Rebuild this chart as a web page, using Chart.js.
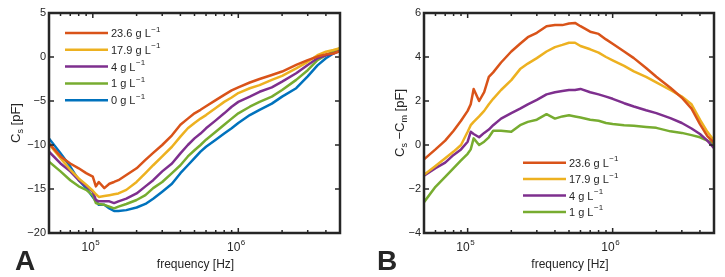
<!DOCTYPE html>
<html>
<head>
<meta charset="utf-8">
<script src="https://cdn.jsdelivr.net/npm/chart.js@4/dist/chart.umd.min.js"></script>
<style>
  body { margin: 0; background: #fff; }
  #wrap { position: relative; width: 725px; height: 277px; }
  canvas { position: absolute; top: 0; }
</style>
</head>
<body>
<div id="wrap">
  <canvas id="chartA" width="362" height="277" style="left:0"></canvas>
  <canvas id="chartB" width="363" height="277" style="left:362px"></canvas>
</div>
<script>
// frequency points (Hz), shared by every series
const freqHz = [5e4, 6e4, 7e4, 8e4, 9e4, 1e5, 1.05e5, 1.1e5, 1.2e5, 1.3e5, 1.4e5, 1.5e5, 1.7e5,
  2e5, 2.3e5, 2.6e5, 3e5, 3.5e5, 4e5, 4.5e5, 5e5, 5.5e5, 6e5, 7e5, 8e5, 9e5,
  1e6, 1.2e6, 1.4e6, 1.7e6, 2e6, 2.5e6, 3e6, 3.5e6, 4e6, 4.5e6, 5e6];

// panel A: Cs [pF]
const csA_236 = [-9.8, -11.3, -12.1, -12.65, -13.2, -13.6, -14.7, -14.2, -14.9, -14.4, -14.2, -14.0, -13.4,
  -12.65, -11.7, -10.9, -10.0, -8.9, -7.7, -7.0, -6.4, -6.0, -5.6, -4.9, -4.3, -3.8,
  -3.45, -2.9, -2.5, -2.05, -1.65, -0.9, -0.35, 0.05, 0.3, 0.4, 0.65];
const csA_179 = [-9.9, -11.5, -12.8, -13.8, -14.5, -15.2, -15.6, -15.9, -15.8, -15.7, -15.6, -15.5, -15.1,
  -14.2, -13.2, -12.3, -11.3, -10.2, -9.05, -8.1, -7.5, -7.0, -6.6, -5.8, -5.1, -4.6,
  -4.1, -3.55, -3.2, -2.6, -2.15, -1.3, -0.55, 0.2, 0.6, 0.8, 1.0];
const csA_4 = [-10.75, -12.1, -13.0, -14.0, -14.7, -15.3, -16.25, -16.4, -16.4, -16.4, -16.6, -16.4, -16.1,
  -15.5, -14.7, -14.0, -13.0, -12.1, -10.95, -10.0, -9.25, -8.7, -8.1, -7.2, -6.4, -5.65,
  -5.1, -4.5, -3.95, -3.45, -2.8, -1.85, -0.9, -0.15, 0.2, 0.4, 0.7];
const csA_1 = [-11.9, -13.0, -14.0, -14.7, -15.1, -15.7, -16.6, -16.7, -16.8, -17.0, -17.2, -17.0, -16.7,
  -16.25, -15.7, -14.9, -14.2, -13.2, -12.3, -11.3, -10.6, -10.0, -9.4, -8.5, -7.7, -7.0,
  -6.4, -5.65, -5.1, -4.5, -3.75, -2.6, -1.5, -0.35, 0.2, 0.6, 1.0];
const csA_0 = [-9.25, -10.95, -12.45, -14.0, -14.9, -15.9, -16.4, -16.8, -16.8, -17.2, -17.5, -17.5, -17.4,
  -17.1, -16.7, -16.1, -15.3, -14.4, -13.2, -12.3, -11.5, -10.75, -10.2, -9.4, -8.7, -8.1,
  -7.5, -6.6, -6.0, -5.3, -4.5, -3.55, -2.2, -0.95, -0.15, 0.4, 0.75];

// panel B: Cs - Cm [pF]
const diffB_236 = [-0.65, -0.2, 0.2, 0.65, 1.1, 1.55, 1.85, 2.55, 2.0, 2.4, 3.1, 3.3, 3.75,
  4.25, 4.6, 4.9, 5.1, 5.4, 5.45, 5.45, 5.52, 5.55, 5.4, 5.15, 5.05, 4.8,
  4.6, 4.25, 3.95, 3.5, 3.1, 2.6, 2.15, 1.65, 0.95, 0.4, 0.1];
const diffB_179 = [-1.35, -0.95, -0.6, -0.3, 0.0, 0.6, 0.9, 1.05, 1.3, 1.55, 1.85, 2.1, 2.5,
  2.95, 3.45, 3.7, 3.95, 4.25, 4.45, 4.55, 4.65, 4.65, 4.5, 4.35, 4.2, 4.0,
  3.85, 3.6, 3.35, 3.1, 2.85, 2.5, 2.2, 1.85, 1.15, 0.6, 0.2];
const diffB_4 = [-1.4, -1.05, -0.8, -0.45, -0.2, 0.15, 0.6, 0.5, 0.35, 0.55, 0.7, 0.9, 1.2,
  1.45, 1.65, 1.85, 2.05, 2.3, 2.4, 2.45, 2.5, 2.5, 2.55, 2.4, 2.3, 2.2,
  2.1, 1.9, 1.75, 1.58, 1.45, 1.22, 1.0, 0.75, 0.5, 0.2, -0.15];
const diffB_1 = [-2.6, -1.9, -1.45, -1.05, -0.7, -0.4, -0.2, 0.3, 0.0, 0.15, 0.35, 0.65, 0.65,
  0.6, 0.9, 1.05, 1.15, 1.4, 1.2, 1.3, 1.35, 1.3, 1.25, 1.15, 1.1, 1.0,
  0.95, 0.9, 0.88, 0.82, 0.78, 0.62, 0.55, 0.45, 0.35, 0.2, 0.05];

const concLabels = ['23.6', '17.9', '4', '1', '0'];
const lineColors = ['#D95319', '#EDB120', '#7E2F8E', '#77AC30', '#0072BD'];
const yTicksA = [-20, -15, -10, -5, 0, 5];
const yTicksB = [-4, -2, 0, 2, 4, 6];
const xMajorTicks = [1e5, 1e6];
const xMinorTicks = [6e4, 7e4, 8e4, 9e4, 2e5, 3e5, 4e5, 5e5, 6e5, 7e5, 8e5, 9e5, 2e6, 3e6, 4e6];

const axisColor = '#262626';
const fontFam = '"Liberation Sans", Arial, Helvetica, sans-serif';

const minus = v => String(v).replace('-', '\u2212');

const matlabAxes = {
  id: 'matlabAxes',
  afterDatasetsDraw(chart, args, opts) {
    const { ctx, chartArea: a, scales: { x, y } } = chart;
    ctx.save();

    // box
    ctx.strokeStyle = axisColor;
    ctx.lineWidth = 2.5;
    ctx.strokeRect(a.left, a.top, a.right - a.left, a.bottom - a.top);

    // inward ticks on all four sides
    ctx.lineWidth = 1.5;
    ctx.beginPath();
    opts.yTicks.forEach(v => {
      const py = y.getPixelForValue(v);
      ctx.moveTo(a.left, py); ctx.lineTo(a.left + 5, py);
      ctx.moveTo(a.right, py); ctx.lineTo(a.right - 5, py);
    });
    const xt = (v, len) => {
      const px = x.getPixelForValue(v);
      ctx.moveTo(px, a.bottom); ctx.lineTo(px, a.bottom - len);
      ctx.moveTo(px, a.top); ctx.lineTo(px, a.top + len);
    };
    xMajorTicks.forEach(v => xt(v, 5));
    xMinorTicks.forEach(v => xt(v, 3));
    ctx.stroke();

    ctx.fillStyle = axisColor;
    ctx.textBaseline = 'alphabetic';

    // x tick labels 10^n
    xMajorTicks.forEach(v => {
      const px = x.getPixelForValue(v);
      ctx.font = '12px ' + fontFam;
      ctx.textAlign = 'right';
      ctx.fillText('10', px + 2, a.bottom + 18);
      ctx.font = '8px ' + fontFam;
      ctx.textAlign = 'left';
      ctx.fillText(String(Math.round(Math.log10(v))), px + 2.5, a.bottom + 12);
    });

    // x title
    ctx.font = '12px ' + fontFam;
    ctx.textAlign = 'center';
    ctx.fillText('frequency [Hz]', (a.left + a.right) / 2 + 1, a.bottom + 35);

    // y title with subscripts
    ctx.save();
    ctx.translate(opts.yTitleX, (a.top + a.bottom) / 2);
    ctx.rotate(-Math.PI / 2);
    const parts = opts.yTitle.map(([t, sub]) => {
      ctx.font = (sub ? '9px ' : '13px ') + fontFam;
      return { t, sub, w: ctx.measureText(t).width };
    });
    let cx = -parts.reduce((s, p) => s + p.w, 0) / 2;
    ctx.textAlign = 'left';
    parts.forEach(p => {
      ctx.font = (p.sub ? '9px ' : '13px ') + fontFam;
      ctx.fillText(p.t, cx, p.sub ? 8 : 4.5);
      cx += p.w;
    });
    ctx.restore();

    // legend
    const lg = opts.legend;
    chart.data.datasets.forEach((ds, i) => {
      const ly = lg.y + i * lg.dy;
      ctx.strokeStyle = ds.borderColor;
      ctx.lineWidth = 2.5;
      ctx.beginPath();
      ctx.moveTo(lg.x, ly); ctx.lineTo(lg.x + 43, ly);
      ctx.stroke();
      ctx.font = '11px ' + fontFam;
      ctx.textAlign = 'left';
      const txt = ds.label + ' g L';
      ctx.fillText(txt, lg.x + 46, ly + 4);
      const w = ctx.measureText(txt).width;
      ctx.font = '8px ' + fontFam;
      ctx.fillText('\u22121', lg.x + 46 + w + 0.5, ly - 1.5);
    });

    // panel letter
    ctx.font = 'bold 28px ' + fontFam;
    ctx.textAlign = 'left';
    ctx.fillText(opts.letter, opts.letterX, 270);

    ctx.restore();
  }
};

function makeChart(id, series, yMin, yMax, yTicks, yWidth, padRight, extra) {
  const datasets = series.map((vals, i) => ({
    label: concLabels[i],
    data: freqHz.map((f, k) => ({ x: f, y: vals[k] })),
    borderColor: lineColors[i],
    borderWidth: 2.5,
    pointRadius: 0,
    tension: 0,
    borderJoinStyle: 'round'
  }));
  return new Chart(document.getElementById(id), {
    type: 'line',
    data: { datasets },
    plugins: [matlabAxes],
    options: {
      responsive: false,
      animation: false,
      devicePixelRatio: 1,
      layout: { padding: { top: 13, right: padRight, bottom: 44, left: 0 } },
      scales: {
        x: { type: 'logarithmic', min: 5e4, max: 5e6, display: false },
        y: {
          min: yMin, max: yMax,
          afterBuildTicks: axis => { axis.ticks = yTicks.map(v => ({ value: v })); },
          afterFit: axis => { axis.width = yWidth; },
          grid: { display: false, drawTicks: false },
          border: { display: false },
          ticks: {
            padding: 3,
            color: axisColor,
            font: { family: fontFam, size: 11 },
            callback: v => minus(v)
          }
        }
      },
      plugins: {
        legend: { display: false },
        tooltip: { enabled: false },
        matlabAxes: Object.assign({ yTicks }, extra)
      }
    }
  });
}

makeChart('chartA', [csA_236, csA_179, csA_4, csA_1, csA_0], -20, 5, yTicksA, 49, 22, {
  yTitle: [['C', false], ['s', true], [' [pF]', false]],
  yTitleX: 15,
  legend: { x: 65, y: 33, dy: 16.8 },
  letter: 'A', letterX: 15
});

makeChart('chartB', [diffB_236, diffB_179, diffB_4, diffB_1], -4, 6, yTicksB, 62, 11, {
  yTitle: [['C', false], ['s', true], [' \u2212C', false], ['m', true], [' [pF]', false]],
  yTitleX: 37,
  legend: { x: 161, y: 162.7, dy: 16.4 },
  letter: 'B', letterX: 15
});
</script>
</body>
</html>
